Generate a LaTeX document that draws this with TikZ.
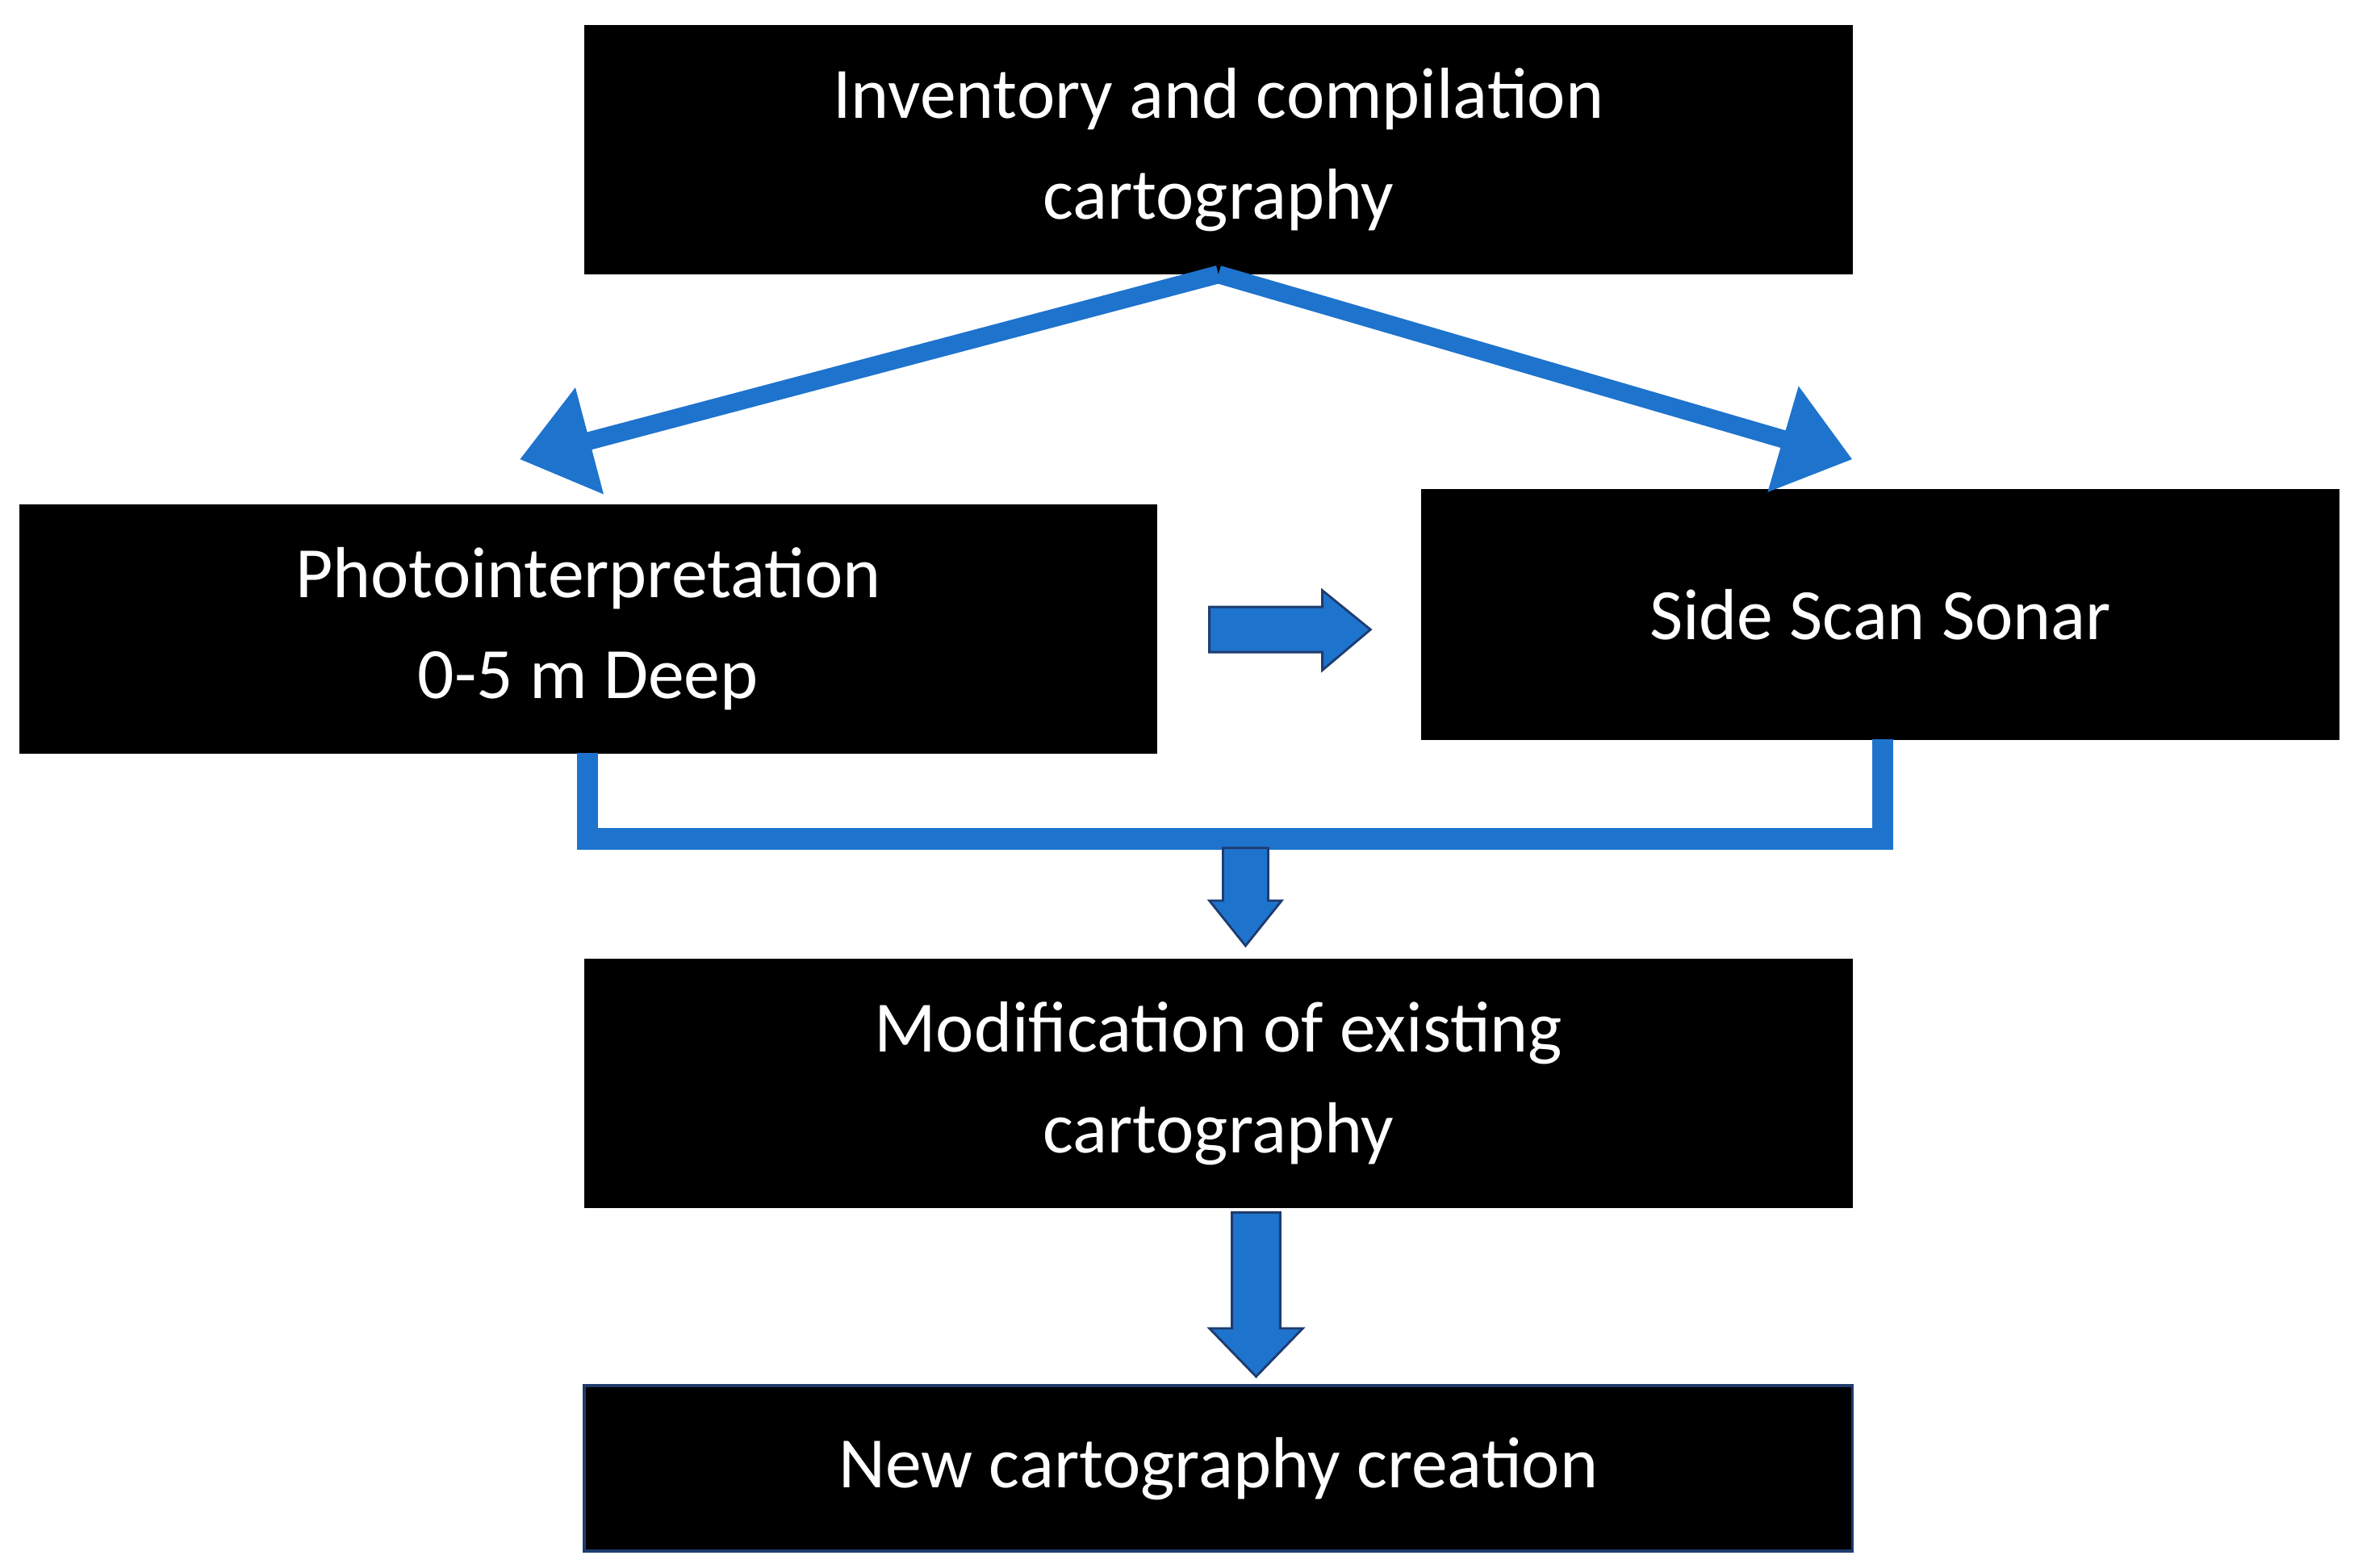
\documentclass[tikz,border=0pt]{standalone}
\usepackage{fontspec}
\setmainfont{Carlito}
\usetikzlibrary{arrows.meta}
\definecolor{ablue}{RGB}{30,115,205}
\definecolor{dblue}{RGB}{30,60,110}
\begin{document}
\begin{tikzpicture}[x=1pt,y=-1pt,
 box/.style={fill=black,text=white,draw=black,inner sep=0pt,
   font=\fontsize{48}{67}\selectfont,align=center},
 conn/.style={draw=ablue,line width=12pt,-{Triangle[length=48pt,width=70pt]}},
 blk/.style={fill=ablue,draw=dblue,line width=1.5pt}]
\useasboundingbox (0,0) rectangle (1563,1041);
\fill[white] (0,0) rectangle (1563,1041);
\node[box,minimum width=842pt,minimum height=165pt] (top) at (809,99.5) {Inventory and compilation\\cartography};
\node[box,minimum width=755pt,minimum height=165pt] (left) at (390.5,417.5) {Photointerpretation\\0-5 m Deep};
\node[box,minimum width=609pt,minimum height=166pt] (right) at (1248.5,408) {Side Scan Sonar};
\node[box,minimum width=842pt,minimum height=165pt] (mod) at (809,719.5) {Modification of existing\\cartography};
\node[box,draw=dblue,line width=2pt,minimum width=842pt,minimum height=110pt] (new) at (809,975) {New cartography creation};
\coordinate (la) at (345,305);
\coordinate (ra) at (1230,305);
\draw[conn] (top.south) -- (la);
\draw[conn] (top.south) -- (ra);
\draw[ablue,line width=14pt] (390,500) |- (1250,557) -- (1250,491);
% right block arrow
\path[blk] (803,403) -- (878,403) -- (878,392) -- (910,418) -- (878,445) -- (878,433) -- (803,433) -- cycle;
% small down arrow
\path[blk] (812,563) -- (842,563) -- (842,598) -- (851,598) -- (827,628) -- (803,598) -- (812,598) -- cycle;
% big down arrow
\path[blk] (818,805) -- (850,805) -- (850,882) -- (865,882) -- (834,914) -- (803,882) -- (818,882) -- cycle;
\end{tikzpicture}
\end{document}
